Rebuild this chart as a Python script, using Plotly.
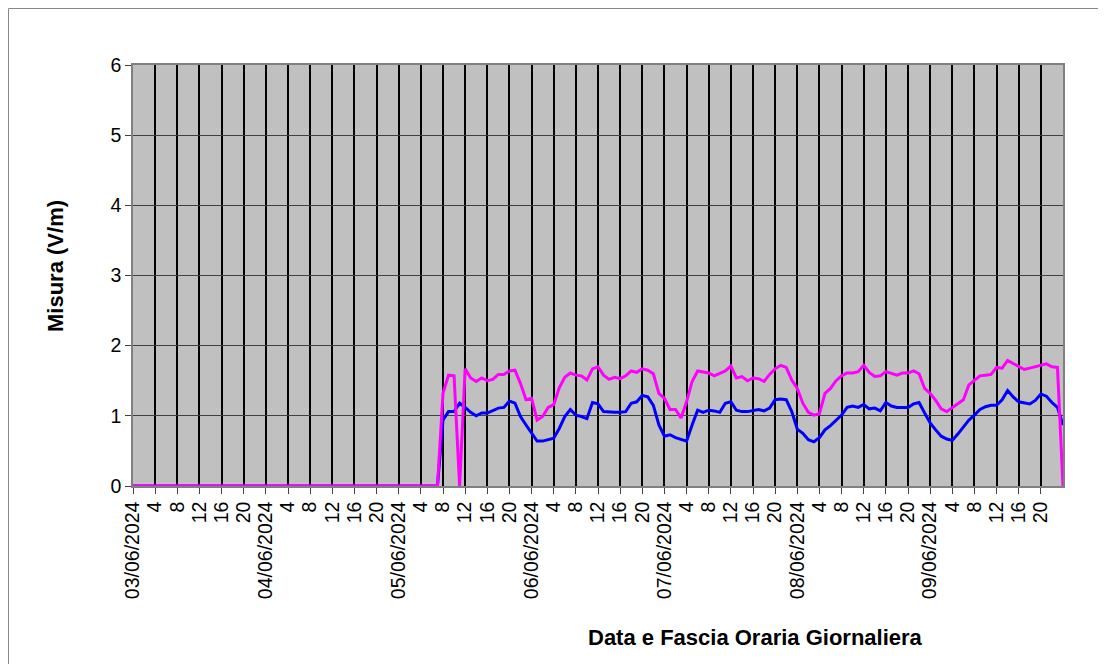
import plotly.graph_objects as go

# ---- data (hourly, 03/06/2024 00:00 ... 10/06/2024 00:00) ----
dates = ["03/06/2024", "04/06/2024", "05/06/2024", "06/06/2024",
         "07/06/2024", "08/06/2024", "09/06/2024"]
hour_labels = ["4", "8", "12", "16", "20"]

magenta_d1 = [0, 0, 0, 0, 0, 0, 0, 0, 0, 0, 0, 0, 0, 0, 0, 0, 0, 0, 0, 0, 0, 0, 0, 0]
magenta_d2 = [0, 0, 0, 0, 0, 0, 0, 0, 0, 0, 0, 0, 0, 0, 0, 0, 0, 0, 0, 0, 0, 0, 0, 0]
magenta_d3 = [0, 0, 0, 0, 0, 0, 0, 0, 1.32, 1.58, 1.57, 0, 1.67, 1.54, 1.49, 1.54,
              1.50, 1.52, 1.59, 1.59, 1.64, 1.65, 1.46, 1.23]
magenta_d4 = [1.25, 0.94, 0.99, 1.12, 1.16, 1.40, 1.55, 1.61, 1.58, 1.57, 1.51, 1.67,
              1.70, 1.58, 1.52, 1.55, 1.53, 1.57, 1.64, 1.62, 1.67, 1.65, 1.60, 1.32]
magenta_d5 = [1.25, 1.09, 1.09, 0.97, 1.20, 1.49, 1.64, 1.62, 1.61, 1.57, 1.60, 1.64,
              1.71, 1.54, 1.56, 1.50, 1.54, 1.53, 1.49, 1.59, 1.67, 1.72, 1.69, 1.51]
magenta_d6 = [1.39, 1.18, 1.05, 1.01, 1.03, 1.32, 1.39, 1.50, 1.57, 1.61, 1.61, 1.63,
              1.72, 1.62, 1.56, 1.57, 1.63, 1.61, 1.58, 1.61, 1.61, 1.64, 1.60, 1.39]
magenta_d7 = [1.32, 1.22, 1.10, 1.06, 1.12, 1.18, 1.23, 1.44, 1.50, 1.57, 1.58, 1.59,
              1.69, 1.68, 1.79, 1.75, 1.71, 1.66, 1.68, 1.70, 1.72, 1.74, 1.70, 1.69]
magenta_end = [0]

blue_d1 = [0, 0, 0, 0, 0, 0, 0, 0, 0, 0, 0, 0, 0, 0, 0, 0, 0, 0, 0, 0, 0, 0, 0, 0]
blue_d2 = [0, 0, 0, 0, 0, 0, 0, 0, 0, 0, 0, 0, 0, 0, 0, 0, 0, 0, 0, 0, 0, 0, 0, 0]
blue_d3 = [0, 0, 0, 0, 0, 0, 0, 0, 0.94, 1.06, 1.06, 1.18, 1.12, 1.05, 1.00, 1.04,
           1.04, 1.07, 1.11, 1.12, 1.21, 1.18, 0.99, 0.87]
blue_d4 = [0.75, 0.64, 0.64, 0.66, 0.68, 0.82, 0.99, 1.09, 1.01, 0.99, 0.96, 1.19,
           1.17, 1.06, 1.05, 1.05, 1.05, 1.06, 1.18, 1.20, 1.29, 1.27, 1.15, 0.87]
blue_d5 = [0.71, 0.73, 0.69, 0.67, 0.64, 0.87, 1.08, 1.05, 1.08, 1.07, 1.05, 1.18,
           1.20, 1.08, 1.06, 1.06, 1.07, 1.09, 1.07, 1.11, 1.23, 1.24, 1.23, 1.06]
blue_d6 = [0.81, 0.75, 0.66, 0.63, 0.69, 0.80, 0.86, 0.93, 1.01, 1.12, 1.14, 1.12,
           1.16, 1.10, 1.11, 1.07, 1.19, 1.14, 1.12, 1.12, 1.12, 1.17, 1.19, 1.04]
blue_d7 = [0.90, 0.80, 0.71, 0.67, 0.65, 0.74, 0.84, 0.94, 1.01, 1.09, 1.13, 1.15,
           1.15, 1.23, 1.36, 1.27, 1.20, 1.18, 1.17, 1.22, 1.31, 1.28, 1.19, 1.12]
blue_end = [0.87]

magenta = (magenta_d1 + magenta_d2 + magenta_d3 + magenta_d4 + magenta_d5
           + magenta_d6 + magenta_d7 + magenta_end)
blue = blue_d1 + blue_d2 + blue_d3 + blue_d4 + blue_d5 + blue_d6 + blue_d7 + blue_end
x = list(range(len(blue)))

tickvals = []
ticktext = []
for d, date in enumerate(dates):
    tickvals.append(d * 24)
    ticktext.append(date)
    for h in hour_labels:
        tickvals.append(d * 24 + int(h))
        ticktext.append(h)

# ---- figure ----
# the page body has an 8px default margin, so the figure is placed at (8, 8)
OX, OY = 8, 8
W, H = 1106, 664
PX0, PX1, PY0, PY1 = 133, 1063, 65, 486          # plot area in page pixels
L = PX0 - OX
T = PY0 - OY
R = W - L - (PX1 - PX0)
B = H - T - (PY1 - PY0)
pw, ph = PX1 - PX0, PY1 - PY0

def px(xp):
    return (xp - PX0) / pw

def py(yp):
    return (PY1 - yp) / ph

fig = go.Figure()
fig.add_trace(go.Scatter(x=x, y=blue, mode="lines",
                         line=dict(color="#0000FF", width=3), showlegend=False))
fig.add_trace(go.Scatter(x=x, y=magenta, mode="lines",
                         line=dict(color="#FF00FF", width=3), showlegend=False))

font_family = "Liberation Sans, Arial, sans-serif"

fig.update_layout(
    width=W, height=H,
    margin=dict(l=L, r=R, t=T, b=B, pad=0),
    paper_bgcolor="white",
    plot_bgcolor="#C0C0C0",
    font=dict(family=font_family, size=19.5, color="black"),
    xaxis=dict(
        range=[0, len(x) - 1],
        tickmode="array", tickvals=tickvals, ticktext=ticktext,
        tickangle=-90,
        showgrid=True, gridcolor="black", gridwidth=2,
        zeroline=False,
        showline=True, linecolor="#808080", linewidth=1.5, mirror=True,
        ticks="outside", ticklen=6, tickcolor="#404040", tickwidth=1,
        tickfont=dict(size=19.5),
    ),
    yaxis=dict(
        range=[0, 6], dtick=1, tick0=0,
        showgrid=True, gridcolor="#404040", gridwidth=1.2,
        zeroline=False,
        showline=True, linecolor="#808080", linewidth=1.5, mirror=True,
        ticks="outside", ticklen=6, tickcolor="#404040", tickwidth=1,
        tickfont=dict(size=19.5),
    ),
    annotations=[
        dict(text="<b>Data e Fascia Oraria Giornaliera</b>", xref="paper", yref="paper",
             x=px(755), y=py(637), xanchor="center", yanchor="middle",
             showarrow=False, font=dict(size=22, family=font_family)),
        dict(text="<b>Misura (V/m)</b>", xref="paper", yref="paper",
             x=px(55), y=py(266), xanchor="center", yanchor="middle",
             textangle=-90, showarrow=False, font=dict(size=22, family=font_family)),
    ],
    shapes=[
        dict(type="rect", xref="paper", yref="paper",
             x0=px(8.5), x1=px(1099), y0=py(700), y1=py(8.5),
             line=dict(color="#888888", width=1), fillcolor="rgba(0,0,0,0)",
             layer="below"),
    ],
)

fig.write_html("out.html")
